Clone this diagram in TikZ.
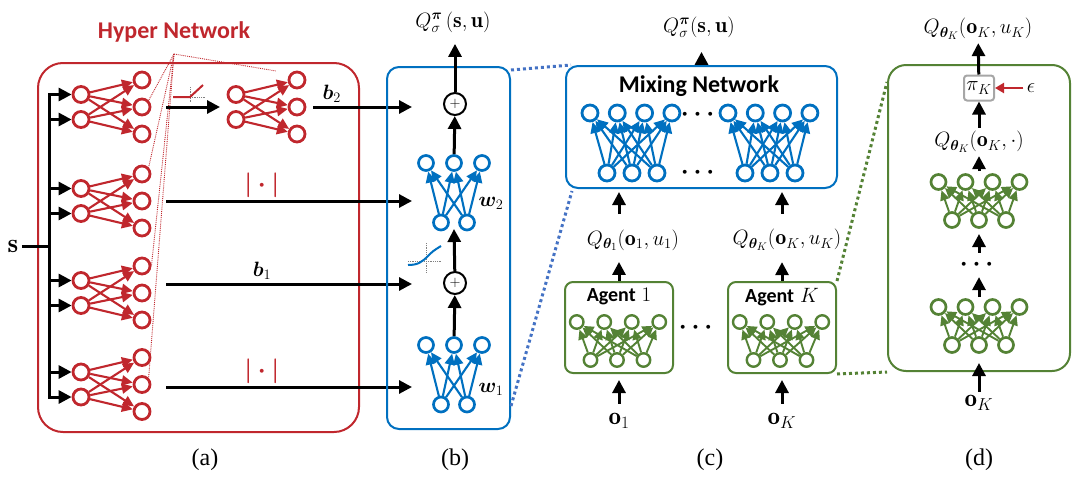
\documentclass[tikz,border=0pt]{standalone}
\usepackage{amsmath}
\usepackage{amssymb}
\usepackage{bm}
\usepackage{fontspec}
\usepackage{tikz}
\usetikzlibrary{arrows.meta,positioning}
\newfontfamily\calibri{Carlito}
\newfontfamily\capfont{Liberation Serif}
\definecolor{hred}{RGB}{192,39,45}
\definecolor{bblue}{RGB}{0,112,192}
\definecolor{dblue}{RGB}{68,114,196}
\definecolor{agreen}{RGB}{84,130,53}
\definecolor{pgray}{RGB}{166,166,166}

\begin{document}
\begin{tikzpicture}[x=1pt,y=-1pt,
    every node/.style={font=\fontsize{22}{24}\selectfont},
    unit/.style={circle,draw,inner sep=0pt,line width=2.8pt,minimum size=16pt},
    tiny unit/.style={unit,line width=2.4pt,minimum size=13.5pt},
    frame/.style={draw,line width=2pt,rounded corners=#1,inner sep=0pt},
    arr/.style={line width=3pt,-{Triangle[length=13pt,width=13pt]}},
    net/.style={line width=2.1pt,-{Triangle[length=11pt,width=10pt]}},
    plus/.style={circle,draw,line width=2pt,minimum size=22pt,inner sep=0pt,font=\fontsize{15}{15}\selectfont},
    zoom/.style={line width=3pt,dash pattern=on 3pt off 3pt},
    dots/.style={inner sep=0pt,font=\fontsize{26}{26}\selectfont},
    absval/.style={text=hred,font=\fontsize{27}{27}\selectfont},
    caption/.style={font=\capfont\fontsize{24}{26}\selectfont},
    title/.style={font=\calibri\bfseries\fontsize{24}{26}\selectfont}]
\useasboundingbox (0,0) rectangle (1073,477);
%
% (a) hyper network
\node[frame=25pt,draw=hred,minimum width=321pt,minimum height=369pt] (hyper) at (198.5,247.5) {};
\node[title,text=hred] (htitle) at (174,32) {Hyper Network};
\foreach \k/\xa/\yc in {1/81/107,2/81/201,3/81/293,4/81/384.5,5/236/107}{
  \foreach \i/\dy in {1/-12.5,2/12.5}
    \node[unit,draw=hred] (hin\k\i) at (\xa,\yc+\dy) {};
  \foreach \j/\dy in {1/-27,2/0,3/27}
    \node[unit,draw=hred] (hout\k\j) at (\xa+61,\yc+\dy) {};
  \foreach \i in {1,2}
    \foreach \j in {1,2,3}
      \draw[net,hred] (hin\k\i) -- (hout\k\j);
}
\node[font=\fontsize{27}{27}\selectfont] (s) at (13,246) {$\mathbf{s}$};
\coordinate (spine) at (49,0);
\draw[line width=3pt,line cap=rect] (spine |- hin11) -- (spine |- hin42);
\draw[line width=3pt] (s.east) -- (s.east -| spine);
\foreach \k in {1,...,4}
  \foreach \i in {1,2}
    \draw[arr] (spine |- hin\k\i) -- (hin\k\i);
\coordinate (apex) at (174,54);
\foreach \n in {hout12.north east,hout21.north east,hout31.east,hout42.north east}
  \draw[hred,line width=0.9pt,densely dotted] (apex) -- (\n);
\draw[hred,line width=0.9pt,densely dotted,shorten >=15pt] (apex) -- (hout51.north west);
%
\coordinate (h1r) at (166,107);
\coordinate (h5l) at (220,107);
\draw[arr] (h1r) -- (h5l);
\draw[gray,densely dotted,line width=0.8pt] (190,87) -- (190,102) (190,97) -- (205,97);
\draw[hred,line width=2pt] (173,97) -- (190,97) -- (203,85);
%
\coordinate (h5r) at (313,107);  \coordinate (b2in) at (412,107);
\coordinate (h2r) at (166,201);  \coordinate (w2in) at (412,201);
\coordinate (h3r) at (166,284);  \coordinate (b1in) at (412,284);
\coordinate (h4r) at (166,387);  \coordinate (w1in) at (412,387);
\draw[arr] (h5r) -- (b2in) node[pos=0.19,above=0pt] {$\bm{b}_2$};
\draw[arr] (h2r) -- (w2in) node[pos=0.39,above=-2pt,absval] {$\bm{|\cdot|}$};
\draw[arr] (h3r) -- (b1in) node[pos=0.39,above=0pt] {$\bm{b}_1$};
\draw[arr] (h4r) -- (w1in) node[pos=0.39,above=-2pt,absval] {$\bm{|\cdot|}$};
\node[caption] (capa) at (205,460) {(a)};
%
% (b) mixing network in detail
\node[frame=12pt,draw=bblue,minimum width=123pt,minimum height=362pt] (mixer) at (448.5,248) {};
\node[plus] (plus1) at (455,104) {$+$};
\node[plus] (plus2) at (455,283) {$+$};
\foreach \n/\yt in {2/163,1/345}{
  \foreach \i in {1,2,3}
    \node[unit,draw=bblue,line width=2.7pt,minimum size=15pt] (wt\n\i) at (454+28*\i-56,\yt) {};
  \foreach \j in {1,2}
    \node[unit,draw=bblue,line width=2.7pt,minimum size=15pt] (wb\n\j) at (454+26*\j-39,\yt+59.5) {};
  \foreach \i in {1,2,3}
    \foreach \j in {1,2}
      \draw[net,bblue] (wb\n\j) -- (wt\n\i);
}
\node (lw2) at (491,203) {$\bm{w}_2$};
\node (lw1) at (491,389) {$\bm{w}_1$};
\coordinate (w2bot) at (454,229);
\draw[arr] (wt12) -- (plus2);
\draw[arr] (plus2) -- (w2bot);
\draw[arr] (wt22) -- (plus1);
\node (qb) at (453,22) {$Q^{\bm{\pi}}_{\sigma}\,(\mathbf{s},\mathbf{u})$};
\draw[arr,shorten >=8pt] (plus1) -- (plus1 |- qb.south);
\draw[gray,densely dotted,line width=0.8pt] (426,243) -- (426,272) (408,261) -- (442,261);
\draw[bblue,line width=2pt] (408,265) .. controls (418,265) and (422,262) .. (428,256)
  .. controls (433,251) .. (441,246);
\node[caption] (capb) at (455,460) {(b)};
%
\node[frame=12pt,draw=bblue,minimum width=271pt,minimum height=122pt] (mixing) at (701.5,127) {};
\draw[dblue,zoom] ([yshift=-4pt]mixer.north east) -- ([xshift=6pt]mixing.north west);
\draw[dblue,zoom] ([yshift=24pt]mixer.south east) -- ([xshift=7pt,yshift=-2pt]mixing.south west);
%
% (c) mixing network and agents
\node[title] (mtitle) at (699,86) {Mixing Network};
\foreach \m/\dx in {l/0,r/138}{
  \foreach \i in {1,...,4}
    \node[unit,draw=bblue] (mt\m\i) at (590+\dx+27.3*\i-27.3,113) {};
  \foreach \j in {1,2,3}
    \node[unit,draw=bblue] (mb\m\j) at (607+\dx+25*\j-25,173) {};
  \foreach \i in {1,...,4}
    \foreach \j in {1,2,3}
      \draw[net,bblue] (mb\m\j) -- (mt\m\i);
}
\node[dots] (mdots1) at (700,115) {$\bm{\cdots}$};
\node[dots] (mdots2) at (700,173) {$\bm{\cdots}$};
\node (qc) at (699,27) {$Q^{\bm{\pi}}_{\sigma}(\mathbf{s},\mathbf{u})$};
\draw[arr,shorten >=11pt] (mixing.north) -- (mixing.north |- qc.south);
\foreach \a/\cx in {1/619,K/782}{
  \node[frame=8pt,draw=agreen,minimum width=108pt,minimum height=91pt] (agent\a) at (\cx,327.5) {};
  \node[font=\fontsize{20}{22}\selectfont] (aname\a) at (\cx,297) {{\calibri\bfseries Agent} $\a$};
  \foreach \i in {1,...,4}
    \node[tiny unit,draw=agreen] (at\a\i) at (\cx-1+27.5*\i-68.75,322) {};
  \foreach \j in {1,2,3}
    \node[tiny unit,draw=agreen] (ab\a\j) at (\cx-2+26.5*\j-53,360) {};
  \foreach \i in {1,...,4}
    \foreach \j in {1,2,3}
      \draw[net,agreen,line width=1.9pt,-{Triangle[length=10pt,width=9pt]}] (ab\a\j) -- (at\a\i);
  \node[font=\fontsize{25}{25}\selectfont] (o\a) at (\cx,421) {$\mathbf{o}_\a$};
  \draw[arr,shorten <=6pt,shorten >=6pt] (o\a) -- (agent\a.south);
}
\node (qa1) at (633,240) {$Q_{\bm{\theta}_1}(\mathbf{o}_1,u_1)$};
\node (qaK) at (787,240) {$Q_{\bm{\theta}_K}(\mathbf{o}_K,u_K)$};
\foreach \a in {1,K}{
  \draw[arr,shorten >=8pt] (agent\a.north) -- (agent\a.north |- qa\a.south);
  \draw[arr,shorten <=12pt,shorten >=3pt] (qa\a.north -| agent\a.north) -- (agent\a.north |- mixing.south);
}
\node[dots] (adots) at (698,328) {$\bm{\cdots}$};
\node[caption] (capc) at (710,460) {(c)};
%
% (d) one agent in detail
\node[frame=18pt,draw=agreen,minimum width=182pt,minimum height=306pt] (agentd) at (979,218) {};
\draw[agreen,zoom] (agentK.north east) -- ([yshift=-18pt]agentd.north west);
\draw[agreen,zoom] (agentK.south east) -- (agentd.south west);
\foreach \n/\yt in {u/182,l/307}{
  \foreach \i in {1,...,4}
    \node[unit,draw=agreen,line width=2.7pt,minimum size=15pt] (dt\n\i) at (979+27*\i-67.5,\yt) {};
  \foreach \j in {1,2,3}
    \node[unit,draw=agreen,line width=2.7pt,minimum size=15pt] (db\n\j) at (979+27*\j-54,\yt+38) {};
  \foreach \i in {1,...,4}
    \foreach \j in {1,2,3}
      \draw[net,agreen,line width=1.9pt,-{Triangle[length=10pt,width=9pt]}] (db\n\j) -- (dt\n\i);
}
\node (qd) at (978,29) {$Q_{\bm{\theta}_K}(\mathbf{o}_K,u_K)$};
\node[draw=pgray,line width=2pt,rounded corners=3pt,minimum width=30pt,minimum height=25pt,inner sep=1pt,font=\fontsize{20}{20}\selectfont] (pik) at (979,88) {$\pi_K$};
\node (eps) at (1031,88) {$\epsilon$};
\draw[hred,line width=2.5pt,-{Triangle[length=9pt,width=10pt]}] (eps) -- (pik);
\node (qdc) at (979,142) {$Q_{\bm{\theta}_K}(\mathbf{o}_K,\cdot)$};
\node[dots] (ddots) at (979,265) {$\bm{\cdots}$};
\node[font=\fontsize{25}{25}\selectfont] (oKd) at (979,403) {$\mathbf{o}_K$};
\coordinate (dutop) at (979,171);
\coordinate (dubot) at (979,234);
\coordinate (dltop) at (979,297);
\draw[arr] (oKd) -- ([yshift=9pt]agentd.south);
\draw[arr,shorten >=6pt] (dltop) -- (ddots);
\draw[arr,shorten <=6pt] (ddots) -- (dubot);
\draw[arr] (dutop) -- (qdc);
\draw[arr] (qdc) -- (pik);
\draw[arr] (pik) -- (qd);
\node[caption] (capd) at (979,460) {(d)};
\end{tikzpicture}
\end{document}
